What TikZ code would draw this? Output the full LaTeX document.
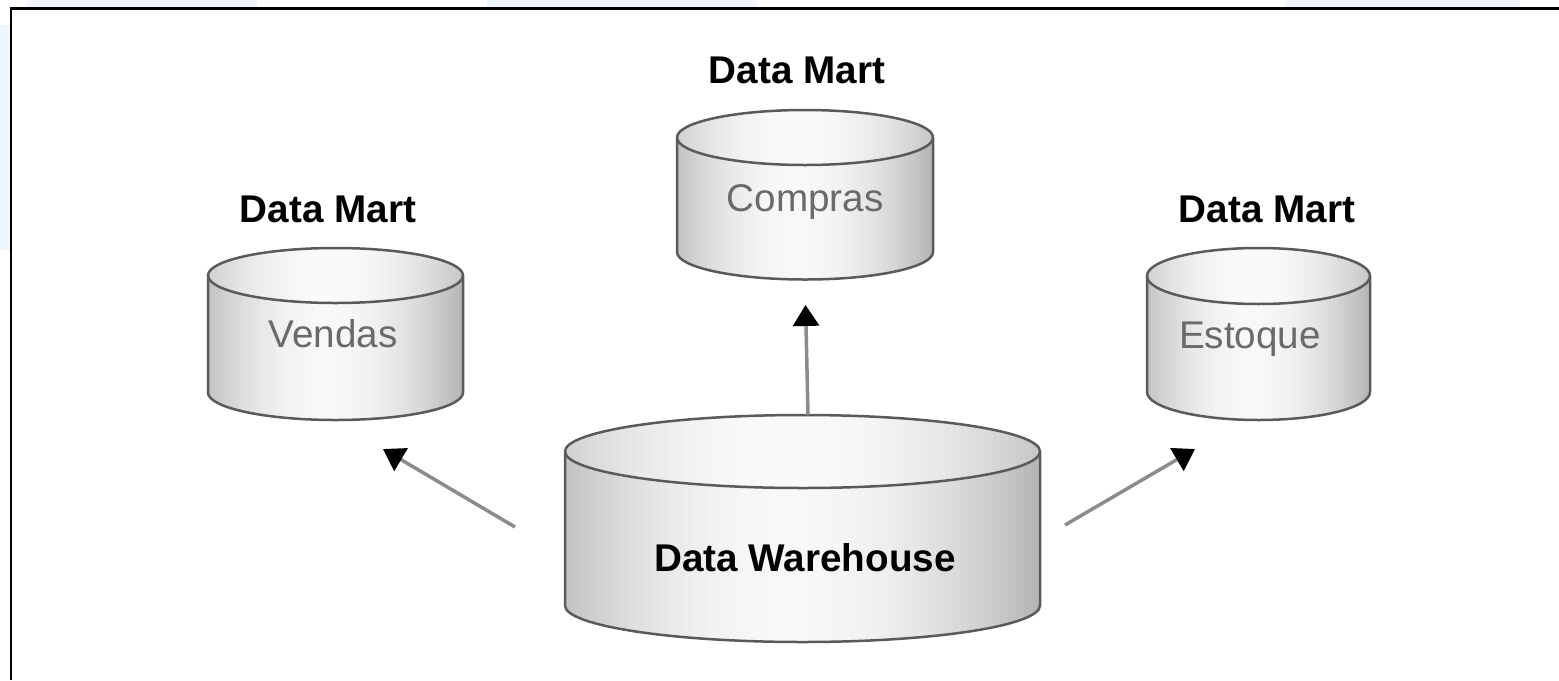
\documentclass[tikz,border=0pt]{standalone}
\usepackage{fontspec}
\setmainfont{Liberation Sans}
\usetikzlibrary{arrows.meta}
\definecolor{bgblue}{HTML}{EEF5FC}
\definecolor{cylline}{HTML}{5A5A5A}
\definecolor{arrgray}{HTML}{8C8C8C}
\definecolor{labgray}{HTML}{6A6A6A}
\definecolor{shedge}{HTML}{B4B4B4}
\definecolor{shmid}{HTML}{F8F8F8}
\definecolor{topedge}{HTML}{C6C6C6}
\definecolor{topmid}{HTML}{FAFAFA}
\tikzset{
  cylout/.style={draw=cylline, line width=0.05cm, line join=round},
  cylbox/.style={rectangle, draw=none, inner sep=0pt, outer sep=0pt},
  dbname/.style={font=\fontsize{22}{26}\selectfont, text=labgray, inner sep=0pt},
  dmtitle/.style={font=\fontsize{22}{26}\selectfont\bfseries, text=black, inner sep=0pt},
  dwtitle/.style={font=\fontsize{22}{26}\selectfont\bfseries, text=black, inner sep=0pt},
  flow/.style={draw=arrgray, line width=0.07cm, -{Triangle[length=0.42cm, width=0.52cm, color=black, fill=black]}},
  framebox/.style={draw=black, line width=0.06cm},
}
% horizontal gradient made of strips: #1 cx, #2 rx, #3 ymin, #4 ymax, #5 edge colour, #6 middle colour
\newcommand{\stripfill}[6]{%
  \foreach \k in {0,...,59}{%
    \pgfmathsetmacro\gpos{(\k+0.5)/60}%
    \pgfmathsetmacro\gdev{(\gpos-0.47)/0.53}%
    \pgfmathsetmacro\gmix{max(0,100*(1-(\gdev)*(\gdev)))}%
    \pgfmathsetmacro\gxa{#1-#2+#2*(\k/30)}%
    \pgfmathsetmacro\gxb{#1-#2+#2*((\k+1)/30)+0.6}%
    \fill[#6!\gmix!#5] (\gxa,#3) rectangle (\gxb,#4);
  }%
}
% #1 cx, #2 rx, #3 y of top ellipse centre, #4 y of bottom ellipse centre, #5 ry
\newcommand{\dbcylinder}[5]{%
  \begin{scope}
    \clip (#1-#2,#3) -- (#1-#2,#4)
       arc[start angle=180, end angle=0, x radius=#2, y radius=#5]
       -- (#1+#2,#3)
       arc[start angle=0, end angle=180, x radius=#2, y radius=#5] -- cycle;
    \stripfill{#1}{#2}{#3-#5-2}{#4+#5+2}{shedge}{shmid}
  \end{scope}
  \begin{scope}
    \clip (#1,#3) ellipse[x radius=#2, y radius=#5];
    \stripfill{#1}{#2}{#3-#5-2}{#3+#5+2}{topedge}{topmid}
  \end{scope}
  \draw[cylout] (#1,#3) ellipse[x radius=#2, y radius=#5];
  \draw[cylout] (#1-#2,#3) -- (#1-#2,#4)
     arc[start angle=180, end angle=0, x radius=#2, y radius=#5]
     -- (#1+#2,#3);
}
\begin{document}
\begin{tikzpicture}[x=0.02cm, y=-0.02cm]
  \useasboundingbox (0,0) rectangle (1559,680);
  \fill[white] (0,0) rectangle (1559,680);
  % slide background remnants
  \fill[bgblue] (27,0) rectangle (257,7);
  \fill[bgblue] (487,0) rectangle (757,7);
  \fill[bgblue] (1285,0) rectangle (1520,7);
  \fill[bgblue] (0,25) rectangle (10,250);
  % frame
  \coordinate (frameBL) at (11,680);
  \coordinate (frameTR) at (1559,8);
  \draw[framebox] (frameBL) |- (frameTR);

  % Compras
  \dbcylinder{805}{128}{137.5}{252}{27.5}
  \node[cylbox, minimum width=5.12cm, minimum height=3.4cm] (compras) at (805,195) {};
  \node[dbname] (comprastext) at (805,202) {Compras};
  \node[dmtitle] (dmcompras) at (797,70) {Data Mart};

  % Vendas
  \dbcylinder{335.5}{127.5}{275.5}{392.5}{27.5}
  \node[cylbox, minimum width=5.1cm, minimum height=3.44cm] (vendas) at (335.5,334) {};
  \node[dbname] (vendastext) at (333,334) {Vendas};
  \node[dmtitle] (dmvendas) at (328,209) {Data Mart};

  % Estoque
  \dbcylinder{1258.5}{111.5}{276}{392}{28}
  \node[cylbox, minimum width=4.46cm, minimum height=3.44cm] (estoque) at (1258.5,334) {};
  \node[dbname] (estoquetext) at (1250,339) {Estoque};
  \node[dmtitle] (dmestoque) at (1267,209) {Data Mart};

  % Data Warehouse
  \dbcylinder{802.5}{237.5}{451.5}{605.5}{36.5}
  \node[cylbox, minimum width=9.5cm, minimum height=4.54cm] (dw) at (808,528.5) {};
  \node[dwtitle] (dwtext) at (805,557.5) {Data Warehouse};

  % connectors
  \draw[flow, shorten >=0.5cm] (dw.north) -- (compras.south);
  \coordinate (vtail) at (515,527);
  \coordinate (vtip) at (383,449);
  \draw[flow] (vtail) -- (vtip);
  \coordinate (etail) at (1065,525);
  \coordinate (etip) at (1195,449);
  \draw[flow] (etail) -- (etip);
\end{tikzpicture}
\end{document}
